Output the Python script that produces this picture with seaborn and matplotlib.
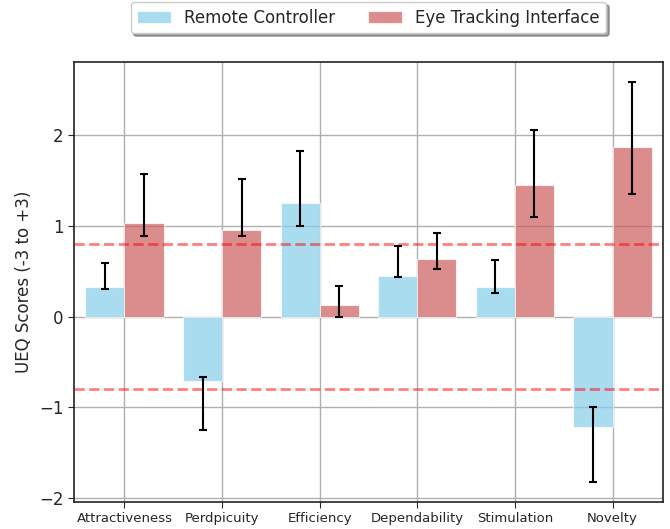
import numpy as np
import pandas as pd
import seaborn as sns
from matplotlib import pyplot as plt

categories = ["Attractiveness", "Perdpicuity", "Efficiency", "Dependability", "Stimulation", "Novelty"]
groups = ["Remote Controller", "Eye Tracking Interface"]

remote_mean = [0.33, -0.71, 1.25, 0.45, 0.33, -1.21]
remote_low = [0.30, -1.25, 0.99, 0.43, 0.26, -1.82]
remote_high = [0.59, -0.67, 1.82, 0.78, 0.62, -1.00]

eye_mean = [1.03, 0.95, 0.13, 0.63, 1.45, 1.86]
eye_low = [0.89, 0.88, -0.01, 0.52, 1.09, 1.35]
eye_high = [1.57, 1.51, 0.34, 0.92, 2.05, 2.58]

benchmark = [0.8, -0.8]

df = pd.DataFrame({
    "Scale": categories * 2,
    "Group": [groups[0]] * len(categories) + [groups[1]] * len(categories),
    "Score": remote_mean + eye_mean,
})

sns.set_style("white")
fig = plt.figure(figsize=(6.7, 5.29), dpi=100)
ax = fig.add_axes([0.110, 0.051, 0.880, 0.832])

ax = sns.barplot(data=df, x="Scale", y="Score", hue="Group", order=categories,
                 hue_order=groups, palette=["skyblue", "indianred"], alpha=0.7,
                 saturation=1, errorbar=None, edgecolor="white", linewidth=0.8, ax=ax)

# error bars at bar centres
lows = [remote_low, eye_low]
highs = [remote_high, eye_high]
bar_sets = list(ax.containers)
for i, cont in enumerate(bar_sets):
    xs = [p.get_x() + p.get_width() / 2 for p in cont.patches]
    lo = np.array(lows[i])
    hi = np.array(highs[i])
    mid = (lo + hi) / 2
    ax.errorbar(xs, mid, yerr=(hi - lo) / 2, fmt="none", ecolor="black",
                elinewidth=1.5, capsize=3, capthick=1.5, zorder=5)

for b in benchmark:
    ax.axhline(b, color="red", linestyle="--", linewidth=2, alpha=0.5, zorder=4)

ax.set_ylim(-2.04, 2.8)
ax.set_xlim(-0.52, 5.52)
ax.set_yticks([-2, -1, 0, 1, 2])
ax.grid(True, color="#b0b0b0", linewidth=1)
ax.set_axisbelow(True)
for s in ax.spines.values():
    s.set_color("#222222")
    s.set_linewidth(1.2)
ax.tick_params(axis="x", labelsize=9.5, length=4, bottom=True)
ax.tick_params(axis="y", labelsize=12, length=4, left=True)
ax.set_xlabel("")
ax.set_ylabel("UEQ Scores (-3 to +3)", fontsize=12)

ax.legend(loc="upper center", bbox_to_anchor=(0.5, 1.155), ncol=2, fontsize=12,
          shadow=True, frameon=True, fancybox=True, columnspacing=2.0)

plt.savefig("out.png")
